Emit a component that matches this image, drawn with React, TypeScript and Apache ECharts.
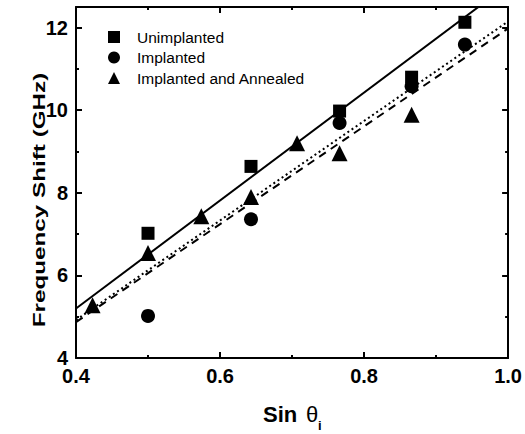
import React, { useEffect, useRef } from "react";
import * as echarts from "echarts";

const unimplanted: [number, number][] = [
  [0.5, 7.02], [0.643, 8.64], [0.766, 9.98], [0.866, 10.8], [0.94, 12.13],
];
const implanted: [number, number][] = [
  [0.5, 5.02], [0.643, 7.36], [0.766, 9.69], [0.866, 10.58], [0.94, 11.59],
];
const annealed: [number, number][] = [
  [0.423, 5.28], [0.5, 6.54], [0.574, 7.43], [0.643, 7.9], [0.707, 9.2], [0.766, 8.96], [0.866, 9.89],
];
const fitUnimplanted: [number, number][] = [[0.4, 5.2], [1.0, 13.04]];
const fitImplanted: [number, number][] = [[0.4, 4.92], [1.0, 12.15]];
const fitAnnealed: [number, number][] = [[0.4, 4.87], [1.0, 11.98]];
const seriesNames = ["Unimplanted", "Implanted", "Implanted and Annealed"];

const FONT = "'Liberation Sans', Arial, Helvetica, sans-serif";

export default function App() {
  const ref = useRef<HTMLDivElement>(null);
  useEffect(() => {
    const chart = echarts.init(ref.current!, null, { renderer: "svg" });
    const axisCommon = {
      type: "value" as const,
      axisLine: { show: true, onZero: false, lineStyle: { color: "#000", width: 2 } },
      axisTick: { show: true, inside: true, length: 6, lineStyle: { color: "#000", width: 2 } },
      minorTick: { show: true, splitNumber: 2, length: 3, lineStyle: { color: "#000", width: 2 } },
      splitLine: { show: false },
      minorSplitLine: { show: false },
    };
    const labelStyle = { color: "#000", fontSize: 20, fontWeight: "bold" as const, fontFamily: FONT };
    chart.setOption({
      animation: false,
      backgroundColor: "#fff",
      grid: { left: 76, right: 14, top: 7, bottom: 76 },
      legend: {
        data: seriesNames,
        orient: "vertical",
        left: 103,
        top: 24,
        itemWidth: 12,
        itemHeight: 12,
        itemGap: 4.5,
        textStyle: { color: "#000", fontSize: 15.5, fontFamily: FONT, lineHeight: 16, padding: [0, 0, 0, 12] },
      },
      xAxis: [
        {
          ...axisCommon,
          min: 0.4, max: 1.0, interval: 0.2, position: "bottom",
          axisLabel: { ...labelStyle, margin: 8, formatter: (v: number) => v.toFixed(1) },
        },
        {
          ...axisCommon,
          min: 0.4, max: 1.0, interval: 0.2, position: "top",
          axisLabel: { show: false },
        },
      ],
      yAxis: [
        {
          ...axisCommon,
          min: 4, max: 12.5, interval: 2, position: "left",
          axisLabel: {
            ...labelStyle, margin: 8,
            formatter: (v: number) => (Math.abs(v - Math.round(v)) < 1e-6 ? String(Math.round(v)) : ""),
          },
        },
        {
          ...axisCommon,
          min: 4, max: 12.5, interval: 2, position: "right",
          axisLabel: { show: false },
        },
      ],
      graphic: [
        {
          type: "text",
          x: 39, y: 200,
          rotation: Math.PI / 2,
          scaleX: 1.47,
          style: {
            text: "Frequency Shift (GHz)",
            font: `bold 16.5px ${FONT}`,
            fill: "#000",
            align: "center",
            verticalAlign: "middle",
          },
        },
        {
          type: "text", x: 263, y: 414,
          style: { text: "Sin", font: `bold 22px ${FONT}`, fill: "#000", align: "left", verticalAlign: "middle" },
        },
        {
          type: "text", x: 306, y: 414,
          style: { text: "θ", font: `22px ${FONT}`, fill: "#000", align: "left", verticalAlign: "middle" },
        },
        {
          type: "text", x: 318, y: 425,
          style: { text: "i", font: `bold 13px ${FONT}`, fill: "#000", align: "left", verticalAlign: "middle" },
        },
      ],
      series: [
        {
          type: "line", data: fitUnimplanted, symbol: "none", silent: true, clip: true,
          lineStyle: { color: "#000", width: 2, type: "solid" },
        },
        {
          type: "line", data: fitImplanted, symbol: "none", silent: true, clip: true,
          lineStyle: { color: "#000", width: 2, type: [2, 3] },
        },
        {
          type: "line", data: fitAnnealed, symbol: "none", silent: true, clip: true,
          lineStyle: { color: "#000", width: 2, type: [8, 6] },
        },
        {
          name: seriesNames[0], type: "scatter", data: unimplanted,
          symbol: "rect", symbolSize: 13, itemStyle: { color: "#000", opacity: 1 },
        },
        {
          name: seriesNames[1], type: "scatter", data: implanted,
          symbol: "circle", symbolSize: 14, itemStyle: { color: "#000", opacity: 1 },
        },
        {
          name: seriesNames[2], type: "scatter", data: annealed,
          symbol: "triangle", symbolSize: 16, itemStyle: { color: "#000", opacity: 1 },
        },
      ],
    });
    return () => chart.dispose();
  }, []);
  return (
    <div
      ref={ref}
      style={{ position: "absolute", left: 0, top: 0, width: 525, height: 434 }}
    />
  );
}
